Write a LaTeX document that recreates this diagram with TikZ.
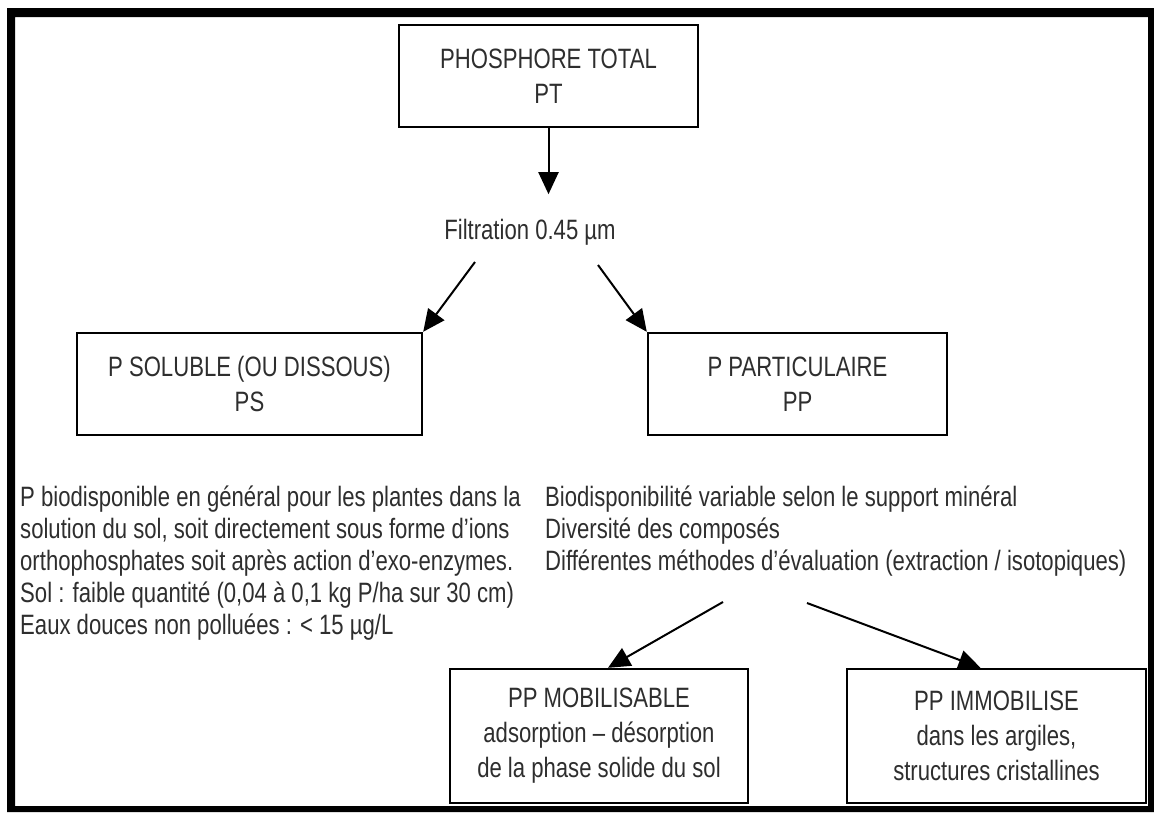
\documentclass[tikz,border=0pt]{standalone}
\usepackage{fontspec}
\setmainfont[FakeStretch=0.79]{Liberation Sans}
\usetikzlibrary{arrows.meta,calc}
\definecolor{ink}{HTML}{2E2E2E}
\tikzset{
  box/.style={draw=black, line width=2.4pt, fill=white, inner sep=0pt, align=center,
              text=ink, font=\fontsize{28}{35}\selectfont},
  arr/.style={draw=black, line width=2pt, -{Triangle[length=22pt,width=20pt]}},
  txt/.style={inner sep=0pt, text=ink, font=\fontsize{28}{32}\selectfont, anchor=base west},
}
\begin{document}
\begin{tikzpicture}[x=1pt,y=-1pt]
\useasboundingbox (0,0) rectangle (1154,812);
\fill[white] (0,0) rectangle (1154,812);
% frame
\fill[black,even odd rule] (7,8) rectangle (1154,812) (15,17) rectangle (1148,806);

% boxes
\node[box, minimum width=299pt, minimum height=102pt] (pt) at (548.5,76)
  {PHOSPHORE TOTAL\\PT};
\node[inner sep=0pt, text=ink, font=\fontsize{28}{32}\selectfont] (filt) at (530,232)
  {Filtration 0.45 µm};
\node[box, minimum width=345pt, minimum height=102pt] (ps) at (249.5,384)
  {P SOLUBLE (OU DISSOUS)\\PS};
\node[box, minimum width=299pt, minimum height=102pt] (pp) at (797.5,384)
  {P PARTICULAIRE\\PP};
\node[box, minimum width=298pt, minimum height=134pt] (mob) at (599,736)
  {PP MOBILISABLE\\adsorption -- désorption\\de la phase solide du sol};
\node[box, minimum width=299pt, minimum height=134pt] (imm) at (996.5,736)
  {PP IMMOBILISE\\dans les argiles,\\structures cristallines};

% left text
\node[txt] (l1) at (20,506) {P biodisponible en général pour les plantes dans la};
\node[txt] (l2) at (20,538) {solution du sol, soit directement sous forme d’ions};
\node[txt] (l3) at (20,570) {orthophosphates soit après action d’exo-enzymes.};
\node[txt] (l4) at (20,602) {Sol : faible quantité (0,04 à 0,1 kg P/ha sur 30 cm)};
\node[txt] (l5) at (20,634) {Eaux douces non polluées : < 15 µg/L};

% right text
\node[txt] (r1) at (545,506) {Biodisponibilité variable selon le support minéral};
\node[txt] (r2) at (545,538) {Diversité des composés};
\node[txt] (r3) at (545,570) {Différentes méthodes d’évaluation (extraction / isotopiques)};

% arrows
\draw[arr] (pt.south) -- ($(pt.south)+(0,66)$) coordinate (ptend);
\draw[arr] ($(filt.center)+(-55,30)$) -- (ps.north east);
\draw[arr] ($(filt.center)+(68,33)$) -- (pp.north west);
\draw[arr] ($(r3.base west)+(178,32)$) -- ($(mob.north)+(9,0)$);
\draw[arr] ($(r3.base west)+(262,33)$) -- ($(imm.north)+(-16,0)$);
\end{tikzpicture}
\end{document}
